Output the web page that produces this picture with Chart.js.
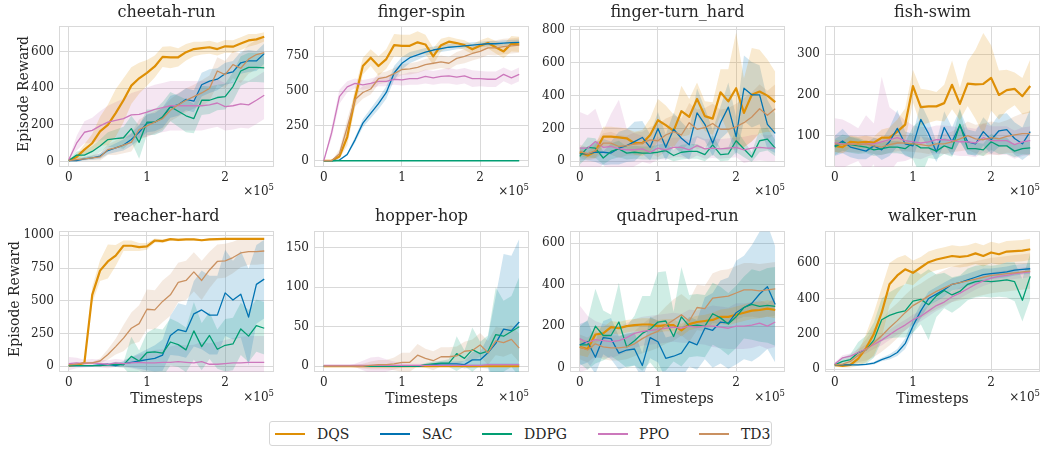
<!DOCTYPE html>
<html><head><meta charset="utf-8">
<script src="https://cdn.jsdelivr.net/npm/chart.js@4.4.0/dist/chart.umd.min.js"></script>
<style>
html,body{margin:0;padding:0;background:#fff;}
body{width:1042px;height:450px;position:relative;overflow:hidden;font-family:'DejaVu Serif',serif;color:#262626;}
canvas{position:absolute;}
.title{position:absolute;font-size:16px;line-height:16px;text-align:center;white-space:nowrap;}
.ylab{position:absolute;font-size:14px;line-height:14px;white-space:nowrap;transform:translate(-50%,-50%) rotate(-90deg);}
.xlab{position:absolute;font-size:14px;line-height:14px;white-space:nowrap;transform:translateX(-50%);}
.mult{position:absolute;font-size:12px;line-height:12px;white-space:nowrap;transform:translateX(-100%);}
.mult span{font-size:8.5px;position:relative;top:-5px;}
#legend{position:absolute;left:269px;top:421px;width:503px;height:25px;box-sizing:border-box;border:1px solid #d6d6d6;border-radius:3px;}
.lg-line{position:absolute;width:30px;}
.lg-text{position:absolute;font-size:14px;line-height:14px;white-space:nowrap;}
</style>
</head><body>
<div id="legend"></div>
<script>
// ---------------- DATA ----------------
const TIMESTEPS = [0,0.1,0.2,0.3,0.4,0.5,0.6,0.7,0.8,0.9,1.0,1.1,1.2,1.3,1.4,1.5,1.6,1.7,1.8,1.9,2.0,2.1,2.2,2.3,2.4,2.5]; // x 1e5
const ALGOS = ['DQS','SAC','DDPG','PPO','TD3'];
const TASKS = ['cheetah-run','finger-spin','finger-turn_hard','fish-swim','reacher-hard','hopper-hop','quadruped-run','walker-run'];
const X_TICKS = [0,1,2];
const X_TICK_LABELS = ['0','1','2'];
const Y_TICKS = [[0,200,400,600],[0,250,500,750],[0,200,400,600,800],[100,200,300],[0,250,500,750,1000],[0,50,100,150],[0,200,400,600],[0,200,400,600]];
const Y_MIN = [-30,-45,-35,23,-44,-7.3,-21,-15];
const Y_MAX = [740,966,823,369,1031,171,658,780];

// cheetah-run
const cheetahRun_DQS = [5,25,65,100,165,200,265,335,415,455,485,520,572,570,570,598,615,620,625,615,630,628,645,662,668,682];
const cheetahRun_DQS_sd = [5,15,30,50,80,110,130,120,100,85,70,60,55,60,50,45,40,35,35,35,35,35,35,35,30,25];
const cheetahRun_SAC = [5,5,15,20,30,60,75,90,120,160,210,215,240,300,310,340,330,420,440,450,480,490,540,550,550,590];
const cheetahRun_SAC_sd = [5,5,10,10,15,20,25,30,35,40,50,50,55,60,60,60,60,65,65,60,60,60,60,60,55,55];
const cheetahRun_DDPG = [5,35,35,55,85,120,125,130,180,105,215,215,245,300,275,250,235,335,335,350,355,410,495,515,515,512];
const cheetahRun_DDPG_sd = [5,20,25,30,35,40,50,60,70,90,70,70,80,80,85,90,80,80,75,70,70,80,80,80,80,80];
const cheetahRun_PPO = [10,100,160,170,195,215,225,235,255,258,270,285,295,305,305,305,305,305,310,320,300,305,315,310,335,362];
const cheetahRun_PPO_sd = [5,40,60,70,80,90,100,110,120,130,135,135,135,135,135,135,135,135,130,130,130,130,130,130,130,130];
const cheetahRun_TD3 = [5,10,15,20,25,65,75,90,105,175,195,215,235,280,310,335,355,375,400,495,475,530,510,560,585,595];
const cheetahRun_TD3_sd = [5,10,10,15,20,30,40,45,50,55,60,60,60,60,65,65,65,70,70,75,75,75,80,80,80,80];

// finger-spin
const fingerSpin_DQS = [0,0,30,170,450,680,740,680,730,830,825,825,850,835,750,830,855,845,830,800,825,845,815,785,840,835];
const fingerSpin_DQS_sd = [0,0,15,60,70,60,60,70,70,80,80,80,80,70,60,45,35,30,35,35,40,40,45,50,55,55];
const fingerSpin_SAC = [0,0,5,45,150,270,340,410,490,630,700,740,760,780,795,805,815,820,825,830,835,840,840,845,848,850];
const fingerSpin_SAC_sd = [0,0,3,10,20,30,35,40,45,50,45,40,35,30,25,25,25,20,20,20,20,20,20,20,20,20];
const fingerSpin_DDPG = [0,0,0,0,0,0,0,0,0,0,0,0,0,0,0,0,0,0,0,0,0,0,0,0,0,0];
const fingerSpin_DDPG_sd = [0,0,0,0,0,0,0,0,0,0,0,0,0,0,0,0,0,0,0,0,0,0,0,0,0,0];
const fingerSpin_PPO = [0,200,460,530,555,545,555,570,570,585,580,590,590,605,595,605,610,600,610,590,590,585,585,620,595,620];
const fingerSpin_PPO_sd = [0,40,50,40,35,35,35,35,35,40,40,45,45,50,50,50,55,55,55,60,55,55,55,50,50,50];
const fingerSpin_TD3 = [0,0,50,240,440,490,515,590,600,625,655,660,670,690,700,710,700,735,750,770,785,810,810,820,825,830];
const fingerSpin_TD3_sd = [0,0,30,60,50,45,40,40,40,40,40,40,40,40,45,45,45,45,50,50,50,50,55,55,55,55];

// finger-turn_hard
const fingerTurn_DQS = [55,35,60,150,150,145,140,110,110,160,250,220,185,305,270,380,275,260,420,365,445,295,405,425,400,360];
const fingerTurn_DQS_sd = [20,20,40,60,60,60,60,70,80,100,130,120,100,155,110,100,90,100,140,195,340,210,285,255,220,185];
const fingerTurn_SAC = [45,45,55,55,50,80,95,120,145,85,200,85,195,140,100,295,225,110,235,330,150,445,405,405,225,170];
const fingerTurn_SAC_sd = [40,40,60,80,70,100,100,120,100,80,100,80,100,100,90,150,100,80,100,150,120,200,200,180,150,120];
const fingerTurn_DDPG = [30,85,80,20,60,75,50,55,50,50,55,65,35,55,60,60,40,100,40,45,125,75,25,125,135,80];
const fingerTurn_DDPG_sd = [50,60,60,40,50,50,40,40,40,40,45,45,35,45,45,45,40,60,40,40,70,50,30,70,70,50];
const fingerTurn_PPO = [80,80,120,85,90,75,70,70,75,55,80,70,85,85,70,95,75,80,75,80,85,70,80,85,80,80];
const fingerTurn_PPO_sd = [220,200,200,100,200,300,130,100,80,70,70,60,60,60,60,60,60,60,60,60,60,80,80,80,80,80];
const fingerTurn_TD3 = [60,45,65,110,110,90,95,105,110,130,125,160,180,160,235,195,205,230,195,195,210,235,270,320,280,320];
const fingerTurn_TD3_sd = [40,40,50,60,70,70,60,70,70,80,100,100,100,100,120,120,120,120,120,130,140,150,150,150,150,150];

// fish-swim
const fishSwim_DQS = [75,72,85,83,85,83,95,95,110,127,222,170,172,172,180,225,178,228,226,227,242,200,212,215,197,222];
const fishSwim_DQS_sd = [15,15,15,15,15,15,20,25,30,40,40,45,40,35,45,60,40,55,85,125,80,60,50,40,45,65];
const fishSwim_SAC = [75,87,72,67,62,75,65,85,118,80,75,140,105,60,120,85,125,85,80,110,90,112,115,93,80,110];
const fishSwim_SAC_sd = [25,30,25,25,20,20,25,35,45,30,30,40,35,25,40,35,40,30,30,35,35,40,40,40,40,55];
const fishSwim_DDPG = [72,83,78,75,72,65,68,72,72,68,82,70,70,62,75,68,128,68,68,65,85,75,75,62,68,70];
const fishSwim_DDPG_sd = [20,20,20,20,15,15,15,15,15,15,40,70,25,20,20,20,40,15,15,15,20,20,20,15,15,15];
const fishSwim_PPO = [83,80,80,78,80,80,85,90,95,88,85,82,85,90,90,88,85,85,82,95,88,88,88,78,85,88];
const fishSwim_PPO_sd = [60,60,50,40,70,50,160,80,60,50,40,40,35,35,35,35,35,35,35,35,35,35,35,35,35,35];
const fishSwim_TD3 = [80,78,80,78,80,75,72,78,82,82,80,78,75,80,80,85,92,100,92,90,95,92,98,102,105,105];
const fishSwim_TD3_sd = [20,20,20,20,20,20,20,20,20,20,20,20,20,20,25,25,30,35,35,40,40,40,40,45,50,55];

// reacher-hard
const reacherHard_DQS = [5,10,25,545,730,800,845,920,920,910,915,960,955,970,965,968,968,962,968,970,972,972,972,972,972,972];
const reacherHard_DQS_sd = [5,5,10,60,80,130,80,40,40,30,25,15,15,10,10,8,8,8,8,8,5,5,5,5,5,5];
const reacherHard_SAC = [5,5,5,5,10,15,5,20,30,40,50,60,85,235,280,265,400,430,390,390,560,505,550,375,625,665];
const reacherHard_SAC_sd = [5,5,5,5,10,10,10,20,40,60,80,100,120,150,200,200,250,300,300,300,330,300,330,370,300,300];
const reacherHard_DDPG = [5,5,5,5,5,10,15,10,75,40,105,110,100,185,165,125,270,150,235,130,160,170,285,230,310,290];
const reacherHard_DDPG_sd = [5,5,5,5,5,10,20,20,150,80,150,180,180,180,170,170,220,180,180,150,200,200,200,200,200,200];
const reacherHard_PPO = [20,25,20,25,20,15,25,20,25,30,25,25,30,30,35,30,25,35,15,15,20,25,25,30,30,30];
const reacherHard_PPO_sd = [50,40,30,30,30,30,30,30,40,60,80,100,100,120,130,130,140,150,160,170,180,190,200,200,200,200];
const reacherHard_TD3 = [10,15,25,25,40,90,150,215,290,325,435,430,495,545,640,655,720,655,735,800,805,830,865,875,875,880];
const reacherHard_TD3_sd = [5,10,10,10,20,40,60,100,120,140,150,150,160,160,150,150,150,150,140,130,130,120,110,100,100,100];

// hopper-hop
const hopperHop_DQS = [0,0,0,0,0,0,0,0,0,0,0,0,0,0,0,0,0,0,0,0,0,0,0,0,0,0];
const hopperHop_DQS_sd = [0,0,0,0,0,0,0,0,0,0,0,0,0,0,0,0,0,0,0,0,0,0,0,0,0,0];
const hopperHop_SAC = [0,0,0,0,0,0,0,0,0,0,0,0,0,1,2,3,3,3,2,8,8,17,29,47,45,56];
const hopperHop_SAC_sd = [0,0,0,0,0,0,0,0,0,0,0,0,0,1,2,3,3,3,5,10,10,20,60,95,95,105];
const hopperHop_DDPG = [0,0,0,0,0,0,0,0,0,0,0,0,0,2,3,4,4,16,10,21,16,19,40,38,44,50];
const hopperHop_DDPG_sd = [0,0,0,0,0,0,0,0,0,0,0,0,0,2,3,3,5,22,10,28,15,20,60,45,45,63];
const hopperHop_PPO = [1,1,1,1,1,1,1,1,1,1,1,1,1,1,1,1,1,1,1,1,1,2,2,2,2,2];
const hopperHop_PPO_sd = [0,0,0,0,2,6,10,11,8,5,3,2,2,2,2,2,2,2,2,2,2,2,2,2,2,2];
const hopperHop_TD3 = [0,0,0,0,0,0,1,2,2,3,5,5,14,10,7,12,12,13,19,20,27,17,32,30,34,23];
const hopperHop_TD3_sd = [0,0,0,0,2,3,5,6,6,8,12,12,14,12,12,12,12,12,12,14,15,15,18,18,18,18];

// quadruped-run
const quadrupedRun_DQS = [100,90,160,165,195,190,200,205,208,208,200,205,205,180,210,220,225,230,245,245,255,265,275,278,285,278];
const quadrupedRun_DQS_sd = [40,40,40,30,30,30,30,30,30,30,30,30,30,30,30,30,30,35,35,40,40,40,40,40,40,40];
const quadrupedRun_SAC = [110,125,50,145,140,70,85,90,10,145,125,45,55,70,125,110,190,180,220,215,265,290,310,355,390,305];
const quadrupedRun_SAC_sd = [100,100,80,80,100,80,80,80,60,100,100,100,100,120,120,120,150,180,200,220,250,250,280,300,300,280];
const quadrupedRun_DDPG = [110,110,200,155,155,220,100,130,165,185,220,225,150,245,200,205,200,260,240,210,245,290,305,295,300,295];
const quadrupedRun_DDPG_sd = [90,120,180,120,100,190,100,120,180,160,240,240,120,240,150,150,150,150,150,150,150,150,170,170,180,190];
const quadrupedRun_PPO = [140,120,135,130,125,130,145,165,175,180,185,190,195,190,200,195,200,200,195,190,200,200,205,215,200,220];
const quadrupedRun_PPO_sd = [160,130,90,80,80,70,70,70,70,70,70,70,70,70,80,80,90,100,100,100,110,110,110,110,110,120];
const quadrupedRun_TD3 = [100,85,115,100,95,95,100,115,140,160,175,205,230,255,225,290,285,335,340,345,360,375,375,370,375,380];
const quadrupedRun_TD3_sd = [60,60,60,60,60,60,60,60,70,80,80,90,100,100,100,110,110,120,130,130,130,130,130,130,130,130];

// walker-run
const walkerRun_DQS = [25,20,25,60,120,200,320,480,530,565,545,575,605,620,630,640,635,640,655,640,660,650,665,668,670,678];
const walkerRun_DQS_sd = [10,10,15,40,80,120,140,120,100,80,70,60,60,60,60,60,60,60,60,60,60,60,60,60,60,60];
const walkerRun_SAC = [25,25,25,25,28,35,55,70,95,145,245,330,400,425,450,480,490,505,520,535,540,545,550,560,565,568];
const walkerRun_SAC_sd = [5,5,5,5,5,8,10,15,20,30,40,40,40,40,40,35,35,35,35,35,30,30,30,30,30,30];
const walkerRun_DDPG = [25,45,55,95,110,165,280,305,320,330,385,395,365,415,445,420,440,480,495,500,495,500,505,495,390,525];
const walkerRun_DDPG_sd = [10,20,30,60,80,100,120,130,140,150,180,140,200,120,100,100,90,90,90,90,90,90,100,110,120,130];
const walkerRun_PPO = [30,65,75,95,115,140,165,195,225,250,280,300,330,360,380,410,430,455,480,500,515,525,530,540,545,550];
const walkerRun_PPO_sd = [10,15,15,20,25,25,30,30,30,30,30,30,30,30,30,30,30,30,30,30,30,30,30,30,30,30];
const walkerRun_TD3 = [25,30,45,80,110,150,190,235,275,320,360,385,415,440,460,480,490,500,510,520,530,535,540,545,550,555];
const walkerRun_TD3_sd = [10,15,20,40,60,80,90,100,100,100,100,100,100,100,100,100,100,100,100,100,100,100,100,100,100,100];

const MEANS = [
  [cheetahRun_DQS,cheetahRun_SAC,cheetahRun_DDPG,cheetahRun_PPO,cheetahRun_TD3],
  [fingerSpin_DQS,fingerSpin_SAC,fingerSpin_DDPG,fingerSpin_PPO,fingerSpin_TD3],
  [fingerTurn_DQS,fingerTurn_SAC,fingerTurn_DDPG,fingerTurn_PPO,fingerTurn_TD3],
  [fishSwim_DQS,fishSwim_SAC,fishSwim_DDPG,fishSwim_PPO,fishSwim_TD3],
  [reacherHard_DQS,reacherHard_SAC,reacherHard_DDPG,reacherHard_PPO,reacherHard_TD3],
  [hopperHop_DQS,hopperHop_SAC,hopperHop_DDPG,hopperHop_PPO,hopperHop_TD3],
  [quadrupedRun_DQS,quadrupedRun_SAC,quadrupedRun_DDPG,quadrupedRun_PPO,quadrupedRun_TD3],
  [walkerRun_DQS,walkerRun_SAC,walkerRun_DDPG,walkerRun_PPO,walkerRun_TD3]
];
const SDS = [
  [cheetahRun_DQS_sd,cheetahRun_SAC_sd,cheetahRun_DDPG_sd,cheetahRun_PPO_sd,cheetahRun_TD3_sd],
  [fingerSpin_DQS_sd,fingerSpin_SAC_sd,fingerSpin_DDPG_sd,fingerSpin_PPO_sd,fingerSpin_TD3_sd],
  [fingerTurn_DQS_sd,fingerTurn_SAC_sd,fingerTurn_DDPG_sd,fingerTurn_PPO_sd,fingerTurn_TD3_sd],
  [fishSwim_DQS_sd,fishSwim_SAC_sd,fishSwim_DDPG_sd,fishSwim_PPO_sd,fishSwim_TD3_sd],
  [reacherHard_DQS_sd,reacherHard_SAC_sd,reacherHard_DDPG_sd,reacherHard_PPO_sd,reacherHard_TD3_sd],
  [hopperHop_DQS_sd,hopperHop_SAC_sd,hopperHop_DDPG_sd,hopperHop_PPO_sd,hopperHop_TD3_sd],
  [quadrupedRun_DQS_sd,quadrupedRun_SAC_sd,quadrupedRun_DDPG_sd,quadrupedRun_PPO_sd,quadrupedRun_TD3_sd],
  [walkerRun_DQS_sd,walkerRun_SAC_sd,walkerRun_DDPG_sd,walkerRun_PPO_sd,walkerRun_TD3_sd]
];

// ---------------- STYLE / LAYOUT ----------------
const COLORS = ['#de8f05','#0173b2','#029e73','#cc78bc','#ca9161'];
const LINE_W = [2.2,1.3,1.3,1.3,1.3];
const BAND_ALPHA = 0.19;
const GRID = '#d9d9d9';
const TEXT = '#262626';
const FONT = "'DejaVu Serif', serif";
const COL_L = [59,314,570,825];
const ROW_T = [20,225];
const PW = 215, PH = 147;
const PADL = 45, PADT = 6, PADR = 6, PADB = 22;
const TITLE_TOP = [4,208];
const MULT_TOP = [185,391];

function rgba(hex,a){const n=parseInt(hex.slice(1),16);return `rgba(${n>>16&255},${n>>8&255},${n&255},${a})`;}

const framePlugin = {
  id:'frame',
  beforeDatasetsDraw(chart){
    const {ctx, chartArea:a} = chart;
    ctx.save(); ctx.strokeStyle = GRID; ctx.lineWidth = 1;
    ctx.strokeRect(Math.round(a.left)+0.5, Math.round(a.top)+0.5, Math.round(a.right-a.left)-1, Math.round(a.bottom-a.top)-1);
    ctx.restore();
  }
};

function addDiv(cls, html, style){
  const d = document.createElement('div'); d.className = cls; d.innerHTML = html;
  Object.assign(d.style, style); document.body.appendChild(d); return d;
}

TASKS.forEach((task, t) => {
  const row = Math.floor(t/4), col = t%4;
  const L = COL_L[col], T = ROW_T[row];
  const cv = document.createElement('canvas');
  const cw = PADL+PW+PADR, ch = PADT+PH+PADB;
  cv.width = cw; cv.height = ch;
  cv.style.left = (L-PADL)+'px'; cv.style.top = (T-PADT)+'px';
  cv.style.width = cw+'px'; cv.style.height = ch+'px';
  document.body.appendChild(cv);

  const datasets = [];
  ALGOS.forEach((alg, a) => {
    const m = MEANS[t][a], s = SDS[t][a];
    datasets.push({label:alg+' lo', data:TIMESTEPS.map((x,i)=>({x, y:m[i]-s[i]})), borderWidth:0, pointRadius:0, fill:false, order:10, tension:0});
    datasets.push({label:alg+' hi', data:TIMESTEPS.map((x,i)=>({x, y:m[i]+s[i]})), borderWidth:0, pointRadius:0, fill:'-1', backgroundColor:rgba(COLORS[a],BAND_ALPHA), order:10, tension:0});
  });
  ALGOS.forEach((alg, a) => {
    datasets.push({label:alg, data:TIMESTEPS.map((x,i)=>({x, y:MEANS[t][a][i]})), borderColor:COLORS[a], borderWidth:LINE_W[a], pointRadius:0, fill:false, order:5-a, tension:0, borderJoinStyle:'round'});
  });

  new Chart(cv, {
    type:'line',
    data:{datasets},
    options:{
      responsive:false, animation:false, devicePixelRatio:1,
      layout:{padding:{left:0, top:PADT, right:PADR, bottom:0}},
      plugins:{legend:{display:false}, tooltip:{enabled:false}, title:{display:false}},
      scales:{
        x:{type:'linear', min:-0.125, max:2.625,
          afterBuildTicks:s=>{s.ticks = X_TICKS.map(v=>({value:v}));},
          afterFit:s=>{s.height = PADB;},
          grid:{color:GRID, lineWidth:1, drawTicks:false},
          border:{display:false},
          ticks:{padding:4, color:TEXT, font:{family:FONT, size:12}, maxRotation:0,
            callback:(v)=>{const k = X_TICKS.indexOf(v); return k>=0 ? X_TICK_LABELS[k] : '';}}
        },
        y:{type:'linear', min:Y_MIN[t], max:Y_MAX[t],
          afterBuildTicks:s=>{s.ticks = Y_TICKS[t].map(v=>({value:v}));},
          afterFit:s=>{s.width = PADL;},
          grid:{color:GRID, lineWidth:1, drawTicks:false},
          border:{display:false},
          ticks:{padding:5, color:TEXT, font:{family:FONT, size:12}, callback:(v)=>String(v)}
        }
      }
    },
    plugins:[framePlugin]
  });

  addDiv('title', task, {left:L+'px', top:TITLE_TOP[row]+'px', width:PW+'px'});
  addDiv('mult', '×10<span>5</span>', {left:(L+PW)+'px', top:MULT_TOP[row]+'px'});
  if (row === 1) addDiv('xlab', 'Timesteps', {left:(L+PW/2)+'px', top:'391px'});
});
addDiv('ylab', 'Episode Reward', {left:'22.5px', top:'93.5px'});
addDiv('ylab', 'Episode Reward', {left:'14px', top:'298.5px'});

// legend
const LG_LINE_X = [5,110,212,328,429];
const LG_TEXT_X = [47,152,254,369,471];
const lg = document.getElementById('legend');
ALGOS.forEach((alg,a)=>{
  const ln = document.createElement('div'); ln.className='lg-line';
  ln.style.left = LG_LINE_X[a]+'px'; ln.style.height = (a===0?2:1.5)+'px';
  ln.style.top = (a===0?10.5:11)+'px'; ln.style.background = COLORS[a];
  lg.appendChild(ln);
  const tx = document.createElement('div'); tx.className='lg-text'; tx.textContent = alg;
  tx.style.left = LG_TEXT_X[a]+'px'; tx.style.top = '4.5px';
  lg.appendChild(tx);
});
</script>
</body></html>
